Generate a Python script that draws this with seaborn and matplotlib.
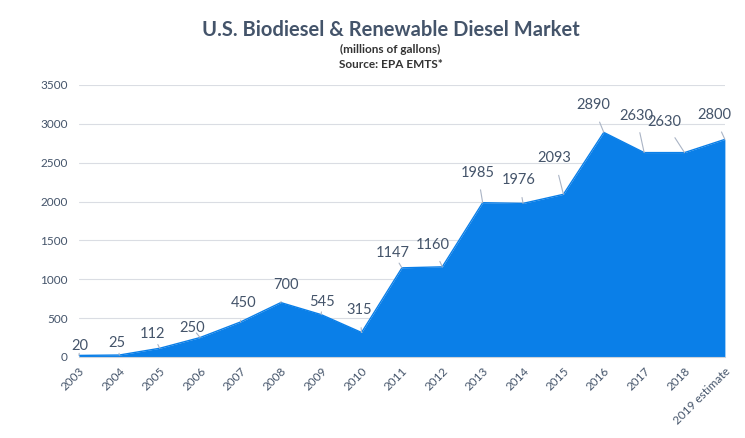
import numpy as np
import matplotlib.pyplot as plt
import seaborn as sns
import pandas as pd

# data
years = ["2003", "2004", "2005", "2006", "2007", "2008", "2009", "2010", "2011",
         "2012", "2013", "2014", "2015", "2016", "2017", "2018", "2019 estimate"]
gallons = [20, 25, 112, 250, 450, 700, 545, 315, 1147,
           1160, 1985, 1976, 2093, 2890, 2630, 2630, 2800]
# label offsets in pixels (dx, dy) from the point
label_dx = [1, -2, -7, -8, 3, 5, 1, -2, -9, -10, -5, -4, -9, -11, -8, -20, -11]
label_dy = [9, 12, 14, 10, 19, 18, 13, 22, 15, 22, 30, 23, 36, 27, 37, 31, 24]

df = pd.DataFrame({"year": years, "gallons": gallons})
df["pos"] = np.arange(len(years))

sns.set_style("white")
plt.rcParams["font.family"] = ["Lato", "DejaVu Sans"]

text_col = "#44546a"
fill_col = "#0a7fe8"

fig = plt.figure(figsize=(7.45, 4.38), dpi=100)
ax = fig.add_axes([0.106, 0.185, 0.867, 0.621])

sns.lineplot(data=df, x="pos", y="gallons", color=fill_col, lw=1, ax=ax)
ax.fill_between(df["pos"], df["gallons"], color=fill_col, lw=0)

ax.set_xlim(0, len(years) - 1)
ax.set_ylim(0, 3500)
ax.set_yticks(np.arange(0, 3501, 500))
ax.set_xticks(df["pos"])
ax.set_xticklabels(years, rotation=45, ha="right", rotation_mode="anchor")
ax.tick_params(axis="x", colors="#d0d4da", labelcolor=text_col, labelsize=8.5,
               length=3, pad=3)
ax.tick_params(axis="y", length=0, labelcolor=text_col, labelsize=8.5, pad=8)
ax.grid(axis="y", color="#dadde3", lw=0.8)
ax.set_axisbelow(True)
for s in ["top", "right", "left"]:
    ax.spines[s].set_visible(False)
ax.spines["bottom"].set_color("#d0d4da")
ax.set_xlabel("")
ax.set_ylabel("")

for x, y, dx, dy in zip(df["pos"], gallons, label_dx, label_dy):
    ax.annotate(str(y), xy=(x, y), xytext=(dx, dy), textcoords="offset pixels",
                ha="center", va="center", fontsize=10.5, color=text_col,
                arrowprops=dict(arrowstyle="-", color="#aab4c5", lw=0.8,
                                shrinkA=5, shrinkB=0))

fig.text(0.525, 0.932, "U.S. Biodiesel & Renewable Diesel Market", ha="center",
         va="center", fontsize=14.5, fontweight="bold", color=text_col)
fig.text(0.524, 0.888, "(millions of gallons)", ha="center", va="center",
         fontsize=8.5, fontweight="bold", color="#333333")
fig.text(0.524, 0.853, "Source: EPA EMTS*", ha="center", va="center",
         fontsize=8.5, fontweight="bold", color="#333333")

fig.savefig("out.png", dpi=100)
